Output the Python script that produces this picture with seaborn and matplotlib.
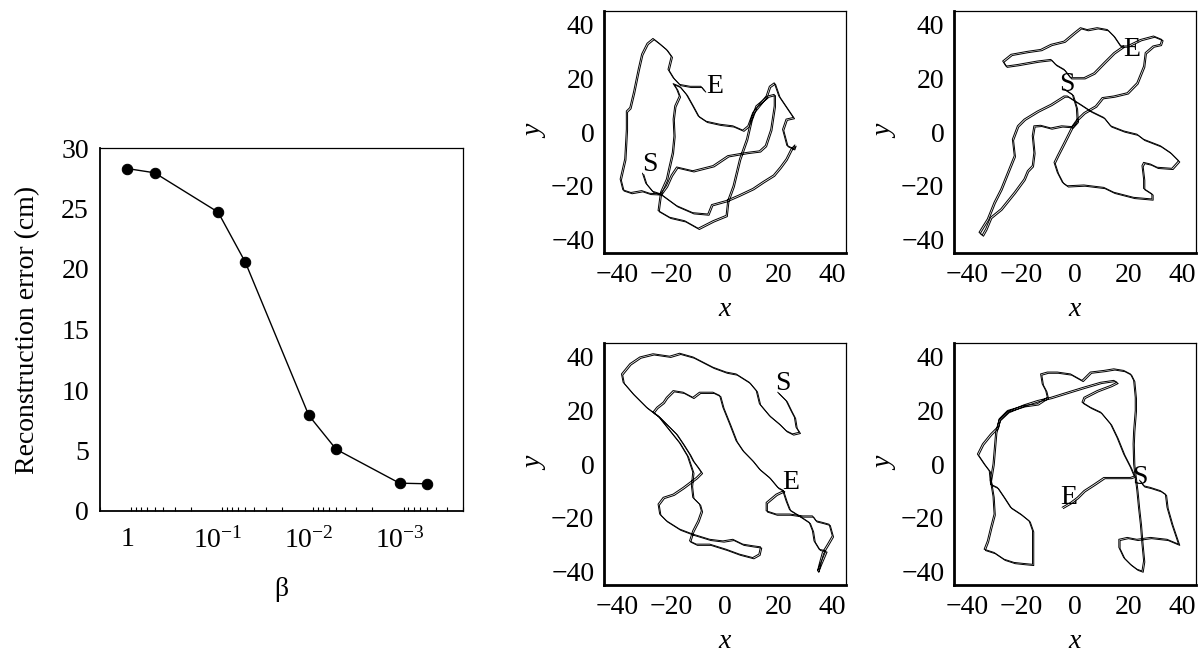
import numpy as np
import pandas as pd
import matplotlib
matplotlib.use("Agg")
import matplotlib.pyplot as plt
import matplotlib.patheffects as pe
from matplotlib.ticker import FixedLocator, FixedFormatter, LogLocator, NullFormatter
import seaborn as sns

# ---------------- data ----------------
beta = [1, 0.5, 0.1, 0.05, 0.01, 0.005, 0.001, 0.0005]
recon_err = [28.3, 27.95, 24.7, 20.55, 7.9, 5.1, 2.3, 2.25]
beta_ticks = [1, 0.1, 0.01, 0.001]
beta_ticklabels = ["1", r"$\mathregular{10^{-1}}$", r"$\mathregular{10^{-2}}$", r"$\mathregular{10^{-3}}$"]
pos_ticks = [-40, -20, 0, 20, 40]

tl_x = [-30.7, -29.5, -27, -24, -18, -12, -6.4, -5, 0.4, 5, 10.3, 14, 18, 20.5, 22.7, 24.5, 26, 25.5, 23, 21.4,
        22.7, 25.4, 23.3, 20, 18.3, 16.5, 15.3, 12.8, 10.3, 8.5, 6.6, 2.9, -2, -7, -10, -12, -14.4, -16.9, -19.3, -18,
        -17, -18.7, -19.3, -19, -19.6, -21, -21.8, -24, -24.9, -20.6, -15, -10, -4.5, 0.4, 1, 3, 5.4, 8, 9.7, 11.5,
        15.9, 18.3, 18.3, 17, 15, 12.8, 8, 1, -4.5, -12, -18, -20, -21.8, -24, -28, -31, -35, -38, -39, -37.3,
        -36.7, -36.7, -35.4, -34, -32.3, -31, -29, -26.8, -24.5, -21.8, -20, -21.2, -19.3, -16.9, -13, -9, -7.6]
tl_y = [-15.3, -19, -22, -23, -27.4, -30, -30.5, -27, -25.5, -23.5, -21, -18.5, -16, -13, -10, -6.4, -4.8, -6.2, -5, 1,
        4.8, 5.4, 8.5, 13.4, 18.3, 17, 13.4, 10.3, 7.2, 2.3, 0.7, 2.3, 2.9, 4, 6, 9.7, 14, 17, 18, 16,
        13.4, 9.7, 4.8, -1.4, -7.6, -13.8, -17.5, -22.4, -29.2, -31.7, -33, -35.8, -33, -31, -25.5, -20, -10, -2.6, 4.8, 9.7,
        13.4, 14, 9.7, 1, -5, -7, -7.6, -8.8, -12.5, -14.4, -13, -16, -20, -23, -22.8, -21.8, -22.5, -21.5, -17.5, -10,
        1, 7.8, 9.1, 15, 23.3, 29, 33, 34.8, 33, 30.7, 28.2, 23.3, 20.2, 17.7, 17, 17, 15.3]

tr_x = [-4, -1, 0.5, 0.8, -1, -5, -9, -12.8, -15.3, -15.9, -15.3, -15.9, -17.7, -19, -22.6, -27.6, -31.4, -33.2, -34.5,
        -35.7, -32.6, -30.1, -27.6, -25.1, -22.6, -23.3, -21.4, -18.9, -14, -9, -4.1, -2.9, 2, 5.8, 10.7, 13.2, 18.1, 23,
        25.5, 31.7, 35.4, 38.5, 36, 30.5, 28, 25.5, 24.9, 25.5, 25.5, 28.6, 28.6, 21.8, 14.4, 10.7, 3.3, -2.9, -4.7, -6.6,
        -7.8, -6.6, -4.1, -1, 0.8, 3.3, 7.6, 10.1, 14.4, 19.4, 23, 25.5, 26.1, 29, 31.7, 32.3, 29.2, 24.3, 19.4, 16.9,
        14.4, 12, 8.2, 4.5, 2, -0.4, -4.1, -9, -12.8, -17.7, -23.8, -26.9, -25.7, -21.4, -14, -9, -7.2, -4.1, -1.7, 3.3,
        7, 10.7, 14.4, 18]
tr_y = [16, 14, 9, 4, 2, 2.3, 1.5, 2.5, 2.3, -1.4, -7.6, -12.5, -14.4, -17.5, -22.4, -28.6, -31.7, -36, -38.3,
        -37.3, -32.3, -26.1, -21.2, -15, -8.8, -2.7, 2.3, 4.8, 7.8, 10.3, 13.4, 13.4, 10.3, 7.8, 5.4, 2.3, 0.4, -0.8,
        -2.7, -5.1, -7.6, -10.7, -13.5, -13.1, -11.9, -11.3, -12.5, -17.5, -21, -23, -24.9, -24.3, -22.4, -20.6, -19.7, -20, -18.7, -15,
        -11.3, -8.8, -3.9, 2.3, 4.8, 7.2, 9.7, 12.8, 13.4, 14.6, 18.3, 24.5, 29.5, 32, 32.6, 34.4, 35.7, 34.4, 32, 32,
        35.7, 38.1, 38.8, 38.1, 38.8, 36.9, 33.8, 32.6, 30.7, 30, 28.9, 26.4, 24.5, 25.1, 26.4, 27, 25.1, 23.3, 20.2, 20.2,
        22, 25.8, 29.5, 32]

bl_x = [19.6, 22.7, 24.5, 25.8, 26.4, 27.6, 25.1, 22.7, 20.2, 16.5, 12.8, 11.6, 9, 4.1, 0.4, -4.5, -8.2, -11.9, -16.9,
        -20.6, -26.8, -31.7, -35.4, -38.5, -37.9, -34.2, -29.2, -24.3, -20.6, -18.1, -15.6, -13.2, -11.9, -10.1, -8.8,
        -10.7, -15.6, -19.3, -23, -24.9, -24.3, -21.8, -16.9, -11.9, -5.7, -0.8, 2.9, 6.6, 10.3, 13.2, 12.6, 10.3, 5.3,
        0.4, -5.7, -10.7, -13.2, -12, -10.1, -8.8, -9.5, -12, -12.5, -12, -13, -14, -17, -21, -25, -26.8, -25.4, -23,
        -21.8, -19.3, -15.6, -12, -9.5, -4.5, -2, -0.8, 1.7, 4.1, 6.6, 10.3, 12.8, 16.5, 19.6, 21.8, 19, 15.3, 15.3, 19,
        24, 28.9, 32.5, 33.8, 36.2, 38.7, 39.9, 38.1, 36.2, 35, 34.4, 35.5, 37.5, 35, 33.1, 32.5, 31.3, 28, 24, 22.7, 21.5]
bl_y = [26.7, 23.6, 19.9, 17.4, 13.7, 11.8, 11.2, 12.4, 14.9, 18, 22.4, 27.3, 30.4, 33.5, 34.2, 36, 37.9, 39.8, 41.2,
        40.1, 41, 39.8, 37.3, 33.5, 30.4, 26.1, 21.1, 17.4, 13.7, 11.2, 7.5, 3.7, 1.2, -1.2, -3.1,
        -5, -8.7, -11.2, -12.4, -14.9, -18.6, -21.1, -24.2, -26.1, -28, -28.6, -28, -29.8, -30.4, -30.8, -33.5, -34.8, -33.5,
        -31.7, -29.8, -29.8, -28.6, -24.8, -21.1, -17.4, -14.9, -12.4, -8, -3, 0, 3, 8, 13, 18, 19.3, 21.1, 23,
        24.8, 27.3, 26.7, 24.8, 26.7, 26.7, 25.5, 21.1, 14.9, 8.7, 5, 1.2, -1.9, -5, -8.7, -9.9, -11.2, -14.3, -17.4, -18.6,
        -18.6, -19.3, -19.3, -21.1, -21.7, -22.4, -26.7, -29.8, -32.9, -37.3, -39.8, -37, -32.3, -31.7, -28.6, -24.8, -21.7, -19.5, -17, -13.7, -10]

br_x = [24, 25.5, 28, 31.7, 33.6, 34.2, 36, 38.5, 34.2, 28, 23, 19.4, 16.3, 16.3, 18.1, 20.6, 23, 24.9, 25.5, 24.9,
        24.3, 23.6, 23, 22.4, 21.8, 21.6, 21.8, 22.4, 22.4, 21.8, 20.6, 18.1, 14.4, 10.7, 5.7, 2.6, -1.7, -6.6, -10.3,
        -12.8, -12.2, -10.9, -10.3, -14, -19, -25.1, -28.2, -28.9, -31.4, -34.4, -36.3, -33.8, -31.9, -31.4, -28.9, -26.4,
        -24, -20.2, -17.1, -15.8, -15.8, -15.8, -19, -22.7, -26.4, -30.1, -33.8, -32.6, -31.4, -30.1, -30.5, -31.5, -30.5,
        -30, -29.5, -28.2, -25, -19, -14, -9, -2.9, 3.3, 9.5, 14.4, 15.6, 13.2, 8.2, 3.3, 2.6, 5.7, 9.5, 13.2, 15.6, 18.1,
        20.6, 22, 20.6, 15.6, 10.7, 7, 3.3, 0.8, -1.7, -4.8]
br_y = [-6, -8.1, -8.7, -9.9, -11.2, -16.1, -22.4, -29.8, -28, -27.3, -28, -27.3, -28, -31, -34.8, -37.3, -39.1, -39.8, -36, -29.8,
        -22.4, -16.1, -9.9, -5, 0, 7.5, 12.4, 19.9, 24.8, 31.1, 33.5, 34.8, 35.4, 34.8, 34.2, 31.1, 33.5, 34.2, 34.2,
        33.5, 29.8, 27.3, 24.8, 22.4, 21.7, 19.9, 16.8, 13.7, 11.2, 7.5, 3.7, 0, -2.5, -7.5, -8.7, -12.4,
        -16.1, -18.6, -21.1, -24.8, -29.8, -37.3, -37, -36.6, -35.4, -32.9, -31.7, -28.6, -23.6, -18.6, -12, -6, 0,
        6, 12, 16.5, 19.5, 22, 23.6, 24.8, 26.7, 28.6, 30.4, 31.1, 30.4, 29.2, 27.3, 24.8, 23, 21.1, 19.3, 14.9, 9.9, 3.7,
        -1.2, -4.5, -5, -5, -5, -7.5, -9.9, -12.4, -14.3, -16.1]

panel_paths = [(tl_x, tl_y), (tr_x, tr_y), (bl_x, bl_y), (br_x, br_y)]
start_labels = [(-28, -12), (-2.9, 17.7), (21.4, 29.8), (24.3, -5)]
end_labels = [(-4, 17), (21.2, 30.7), (24.5, -6.8), (-2.3, -12.4)]

# ---------------- style ----------------
sns.set_theme(style="white")
plt.rcParams.update({
    "font.family": ["Liberation Serif", "DejaVu Serif"],
    "mathtext.fontset": "custom",
    "mathtext.rm": "Liberation Serif",
    "mathtext.it": "Liberation Serif:italic",
    "text.color": "black",
    "axes.labelcolor": "black",
    "xtick.color": "black",
    "ytick.color": "black",
    "axes.edgecolor": "black",
    "axes.unicode_minus": True,
})
FS = 20

fig = plt.figure(figsize=(12.02, 6.54), dpi=100)

# ---------------- left panel ----------------
W, H = 1202.0, 654.0
ax0 = fig.add_axes([100 / W, 1 - 511 / H, 363 / W, 363 / H])
df0 = pd.DataFrame({"beta": beta, "err": recon_err})
sns.lineplot(data=df0, x="beta", y="err", ax=ax0, color="black", linewidth=1.0,
             marker="o", markersize=7.5, markeredgecolor="black", markerfacecolor="black")
ax0.set_xscale("log")
ax0.set_xlim(2.0, 2e-4)
ax0.set_ylim(0, 30)
ax0.set_yticks([0, 5, 10, 15, 20, 25, 30])
ax0.xaxis.set_major_locator(FixedLocator(beta_ticks))
ax0.xaxis.set_major_formatter(FixedFormatter(beta_ticklabels))
ax0.xaxis.set_minor_locator(LogLocator(base=10, subs=np.arange(2, 10)))
ax0.xaxis.set_minor_formatter(NullFormatter())
ax0.tick_params(axis="y", which="major", direction="in", length=6, width=1.0, labelsize=FS, pad=8)
ax0.tick_params(axis="x", which="major", direction="in", length=6, width=1.0, labelsize=FS, pad=11.5)
ax0.tick_params(axis="x", which="minor", direction="in", length=3, width=0.8, bottom=True)
ax0.set_xlabel("β", fontsize=FS, labelpad=17)
ax0.set_ylabel("Reconstruction error (cm)", fontsize=FS, labelpad=15)
for s in ["left", "bottom"]:
    ax0.spines[s].set_linewidth(1.3)
for s in ["top", "right"]:
    ax0.spines[s].set_linewidth(0.9)

# ---------------- trajectory panels ----------------
lefts = [604 / W, 954 / W, 604 / W, 954 / W]
bottoms = [1 - 253 / H, 1 - 253 / H, 1 - 585 / H, 1 - 585 / H]
for i, (px, py) in enumerate(panel_paths):
    ax = fig.add_axes([lefts[i], bottoms[i], 242 / W, 242 / H])
    dfp = pd.DataFrame({"x": px, "y": py})
    sns.lineplot(data=dfp, x="x", y="y", ax=ax, sort=False, estimator=None,
                 color="black", linewidth=0.7,
                 path_effects=[pe.SimpleLineShadow(offset=(0.9, -0.9), shadow_color="black", alpha=1.0, rho=1.0),
                               pe.Normal()])
    ax.set_xlim(-45, 45)
    ax.set_ylim(-45, 45)
    ax.set_xticks(pos_ticks)
    ax.set_yticks(pos_ticks)
    ax.tick_params(axis="both", which="major", direction="in", length=5, width=1.2, labelsize=FS, pad=7)
    ax.set_xlabel("x", fontsize=FS, fontstyle="italic", labelpad=6.5)
    ax.set_ylabel("y", fontsize=FS, fontstyle="italic", labelpad=2)
    for s in ["left", "bottom"]:
        ax.spines[s].set_linewidth(2.0)
    for s in ["top", "right"]:
        ax.spines[s].set_linewidth(0.9)
    sx, sy = start_labels[i]
    ex, ey = end_labels[i]
    ax.text(sx, sy, "S", fontsize=FS, ha="center", va="center")
    ax.text(ex, ey, "E", fontsize=FS, ha="center", va="center")

fig.savefig("out.png", dpi=100)
